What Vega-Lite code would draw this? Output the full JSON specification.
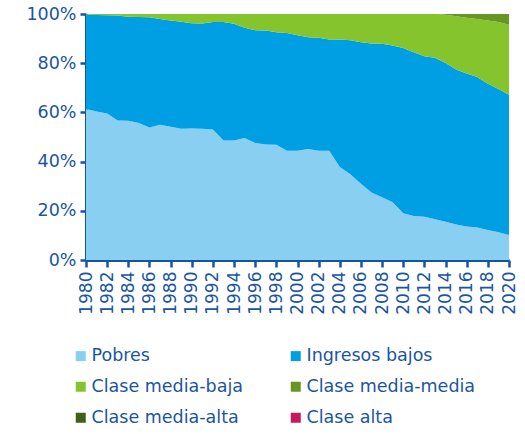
{
  "$schema": "https://vega.github.io/schema/vega-lite/v6.json",
  "width": 423,
  "height": 246,
  "autosize": {"type": "none"},
  "padding": {"left": 86, "top": 14, "right": 16, "bottom": 174},
  "background": "white",
  "config": {
    "view": {"stroke": null},
    "font": "DejaVu Sans",
    "axis": {"domainColor": "#1753a3", "tickColor": "#1753a3", "labelColor": "#1a55a3", "labelFont": "DejaVu Sans", "grid": false},
    "legend": {"labelColor": "#1a55a3", "labelFont": "DejaVu Sans"}
  },
  "data": {"values": [
{"year":1980,"group":"Pobres","share":61.4},{"year":1980,"group":"Ingresos bajos","share":38.4},{"year":1980,"group":"Clase media-baja","share":0.2},{"year":1980,"group":"Clase media-media","share":0},
{"year":1981,"group":"Pobres","share":60.4},{"year":1981,"group":"Ingresos bajos","share":39.2},{"year":1981,"group":"Clase media-baja","share":0.4},{"year":1981,"group":"Clase media-media","share":0},
{"year":1982,"group":"Pobres","share":59.6},{"year":1982,"group":"Ingresos bajos","share":39.9},{"year":1982,"group":"Clase media-baja","share":0.5},{"year":1982,"group":"Clase media-media","share":0},
{"year":1983,"group":"Pobres","share":56.7},{"year":1983,"group":"Ingresos bajos","share":42.7},{"year":1983,"group":"Clase media-baja","share":0.6},{"year":1983,"group":"Clase media-media","share":0},
{"year":1984,"group":"Pobres","share":56.6},{"year":1984,"group":"Ingresos bajos","share":42.3},{"year":1984,"group":"Clase media-baja","share":1.1},{"year":1984,"group":"Clase media-media","share":0},
{"year":1985,"group":"Pobres","share":55.7},{"year":1985,"group":"Ingresos bajos","share":43.1},{"year":1985,"group":"Clase media-baja","share":1.2},{"year":1985,"group":"Clase media-media","share":0},
{"year":1986,"group":"Pobres","share":53.9},{"year":1986,"group":"Ingresos bajos","share":44.8},{"year":1986,"group":"Clase media-baja","share":1.3},{"year":1986,"group":"Clase media-media","share":0},
{"year":1987,"group":"Pobres","share":55.0},{"year":1987,"group":"Ingresos bajos","share":43.0},{"year":1987,"group":"Clase media-baja","share":2.0},{"year":1987,"group":"Clase media-media","share":0},
{"year":1988,"group":"Pobres","share":54.2},{"year":1988,"group":"Ingresos bajos","share":43.2},{"year":1988,"group":"Clase media-baja","share":2.6},{"year":1988,"group":"Clase media-media","share":0},
{"year":1989,"group":"Pobres","share":53.4},{"year":1989,"group":"Ingresos bajos","share":43.5},{"year":1989,"group":"Clase media-baja","share":3.1},{"year":1989,"group":"Clase media-media","share":0},
{"year":1990,"group":"Pobres","share":53.5},{"year":1990,"group":"Ingresos bajos","share":42.7},{"year":1990,"group":"Clase media-baja","share":3.8},{"year":1990,"group":"Clase media-media","share":0},
{"year":1991,"group":"Pobres","share":53.4},{"year":1991,"group":"Ingresos bajos","share":42.7},{"year":1991,"group":"Clase media-baja","share":3.9},{"year":1991,"group":"Clase media-media","share":0},
{"year":1992,"group":"Pobres","share":53.0},{"year":1992,"group":"Ingresos bajos","share":43.7},{"year":1992,"group":"Clase media-baja","share":3.3},{"year":1992,"group":"Clase media-media","share":0},
{"year":1993,"group":"Pobres","share":48.6},{"year":1993,"group":"Ingresos bajos","share":48.1},{"year":1993,"group":"Clase media-baja","share":3.3},{"year":1993,"group":"Clase media-media","share":0},
{"year":1994,"group":"Pobres","share":48.6},{"year":1994,"group":"Ingresos bajos","share":47.4},{"year":1994,"group":"Clase media-baja","share":4.0},{"year":1994,"group":"Clase media-media","share":0},
{"year":1995,"group":"Pobres","share":49.6},{"year":1995,"group":"Ingresos bajos","share":44.8},{"year":1995,"group":"Clase media-baja","share":5.6},{"year":1995,"group":"Clase media-media","share":0},
{"year":1996,"group":"Pobres","share":47.6},{"year":1996,"group":"Ingresos bajos","share":45.8},{"year":1996,"group":"Clase media-baja","share":6.6},{"year":1996,"group":"Clase media-media","share":0},
{"year":1997,"group":"Pobres","share":47.0},{"year":1997,"group":"Ingresos bajos","share":46.3},{"year":1997,"group":"Clase media-baja","share":6.7},{"year":1997,"group":"Clase media-media","share":0},
{"year":1998,"group":"Pobres","share":46.8},{"year":1998,"group":"Ingresos bajos","share":45.8},{"year":1998,"group":"Clase media-baja","share":7.4},{"year":1998,"group":"Clase media-media","share":0},
{"year":1999,"group":"Pobres","share":44.4},{"year":1999,"group":"Ingresos bajos","share":47.9},{"year":1999,"group":"Clase media-baja","share":7.7},{"year":1999,"group":"Clase media-media","share":0},
{"year":2000,"group":"Pobres","share":44.4},{"year":2000,"group":"Ingresos bajos","share":47.0},{"year":2000,"group":"Clase media-baja","share":8.6},{"year":2000,"group":"Clase media-media","share":0},
{"year":2001,"group":"Pobres","share":45.1},{"year":2001,"group":"Ingresos bajos","share":45.4},{"year":2001,"group":"Clase media-baja","share":9.5},{"year":2001,"group":"Clase media-media","share":0},
{"year":2002,"group":"Pobres","share":44.4},{"year":2002,"group":"Ingresos bajos","share":45.9},{"year":2002,"group":"Clase media-baja","share":9.7},{"year":2002,"group":"Clase media-media","share":0},
{"year":2003,"group":"Pobres","share":44.4},{"year":2003,"group":"Ingresos bajos","share":45.2},{"year":2003,"group":"Clase media-baja","share":10.4},{"year":2003,"group":"Clase media-media","share":0},
{"year":2004,"group":"Pobres","share":37.8},{"year":2004,"group":"Ingresos bajos","share":51.8},{"year":2004,"group":"Clase media-baja","share":10.4},{"year":2004,"group":"Clase media-media","share":0},
{"year":2005,"group":"Pobres","share":34.9},{"year":2005,"group":"Ingresos bajos","share":54.4},{"year":2005,"group":"Clase media-baja","share":10.7},{"year":2005,"group":"Clase media-media","share":0},
{"year":2006,"group":"Pobres","share":31.0},{"year":2006,"group":"Ingresos bajos","share":57.5},{"year":2006,"group":"Clase media-baja","share":11.5},{"year":2006,"group":"Clase media-media","share":0},
{"year":2007,"group":"Pobres","share":27.4},{"year":2007,"group":"Ingresos bajos","share":60.6},{"year":2007,"group":"Clase media-baja","share":12.0},{"year":2007,"group":"Clase media-media","share":0},
{"year":2008,"group":"Pobres","share":25.5},{"year":2008,"group":"Ingresos bajos","share":62.4},{"year":2008,"group":"Clase media-baja","share":12.1},{"year":2008,"group":"Clase media-media","share":0},
{"year":2009,"group":"Pobres","share":23.5},{"year":2009,"group":"Ingresos bajos","share":63.7},{"year":2009,"group":"Clase media-baja","share":12.8},{"year":2009,"group":"Clase media-media","share":0},
{"year":2010,"group":"Pobres","share":19.0},{"year":2010,"group":"Ingresos bajos","share":67.2},{"year":2010,"group":"Clase media-baja","share":13.8},{"year":2010,"group":"Clase media-media","share":0},
{"year":2011,"group":"Pobres","share":17.9},{"year":2011,"group":"Ingresos bajos","share":66.6},{"year":2011,"group":"Clase media-baja","share":15.5},{"year":2011,"group":"Clase media-media","share":0},
{"year":2012,"group":"Pobres","share":17.6},{"year":2012,"group":"Ingresos bajos","share":65.2},{"year":2012,"group":"Clase media-baja","share":17.2},{"year":2012,"group":"Clase media-media","share":0},
{"year":2013,"group":"Pobres","share":16.6},{"year":2013,"group":"Ingresos bajos","share":65.6},{"year":2013,"group":"Clase media-baja","share":17.8},{"year":2013,"group":"Clase media-media","share":0},
{"year":2014,"group":"Pobres","share":15.5},{"year":2014,"group":"Ingresos bajos","share":64.6},{"year":2014,"group":"Clase media-baja","share":19.6},{"year":2014,"group":"Clase media-media","share":0.3},
{"year":2015,"group":"Pobres","share":14.4},{"year":2015,"group":"Ingresos bajos","share":63.0},{"year":2015,"group":"Clase media-baja","share":21.7},{"year":2015,"group":"Clase media-media","share":0.9},
{"year":2016,"group":"Pobres","share":13.6},{"year":2016,"group":"Ingresos bajos","share":62.2},{"year":2016,"group":"Clase media-baja","share":22.7},{"year":2016,"group":"Clase media-media","share":1.5},
{"year":2017,"group":"Pobres","share":13.2},{"year":2017,"group":"Ingresos bajos","share":61.2},{"year":2017,"group":"Clase media-baja","share":23.6},{"year":2017,"group":"Clase media-media","share":2.0},
{"year":2018,"group":"Pobres","share":12.2},{"year":2018,"group":"Ingresos bajos","share":59.4},{"year":2018,"group":"Clase media-baja","share":25.8},{"year":2018,"group":"Clase media-media","share":2.6},
{"year":2019,"group":"Pobres","share":11.3},{"year":2019,"group":"Ingresos bajos","share":58.2},{"year":2019,"group":"Clase media-baja","share":27.2},{"year":2019,"group":"Clase media-media","share":3.3},
{"year":2020,"group":"Pobres","share":10.2},{"year":2020,"group":"Ingresos bajos","share":57.0},{"year":2020,"group":"Clase media-baja","share":28.4},{"year":2020,"group":"Clase media-media","share":4.4}
  ]},
  "transform": [
    {"calculate": "indexof(['Pobres','Ingresos bajos','Clase media-baja','Clase media-media','Clase media-alta','Clase alta'], datum.group)", "as": "rank"}
  ],
  "mark": {"type": "area", "interpolate": "linear"},
  "encoding": {
    "x": {
      "field": "year", "type": "quantitative",
      "scale": {"domain": [1980, 2020], "nice": false, "zero": false},
      "axis": {
        "title": null, "values": [1980,1982,1984,1986,1988,1990,1992,1994,1996,1998,2000,2002,2004,2006,2008,2010,2012,2014,2016,2018,2020],
        "format": "d", "labelAngle": -90, "labelFontSize": 17, "labelPadding": 4,
        "domainWidth": 3, "tickWidth": 2.5, "tickSize": 7, "labelOverlap": false, "labelFlush": false
      }
    },
    "y": {
      "field": "share", "type": "quantitative", "stack": "normalize",
      "scale": {"domain": [0, 1]},
      "axis": {
        "title": null, "values": [0, 0.2, 0.4, 0.6, 0.8, 1], "format": ".0%",
        "labelFontSize": 17.5, "labelPadding": 4, "domainWidth": 3, "tickWidth": 2.5, "tickSize": 6
      }
    },
    "color": {
      "field": "group", "type": "nominal",
      "scale": {
        "domain": ["Pobres", "Ingresos bajos", "Clase media-baja", "Clase media-media", "Clase media-alta", "Clase alta"],
        "range": ["#89cff1", "#009fe3", "#86c42e", "#679624", "#3f6019", "#c8175a"]
      },
      "legend": {
        "title": null, "orient": "none", "legendX": -14, "legendY": 333, "direction": "horizontal", "columns": 2,
        "symbolType": "square", "symbolSize": 100, "symbolStrokeWidth": 0, "labelFontSize": 17.5, "labelOffset": 2,
        "rowPadding": 12, "columnPadding": 26, "gridAlign": "all", "labelLimit": 300
      }
    },
    "order": {"field": "rank", "type": "quantitative"}
  }
}
